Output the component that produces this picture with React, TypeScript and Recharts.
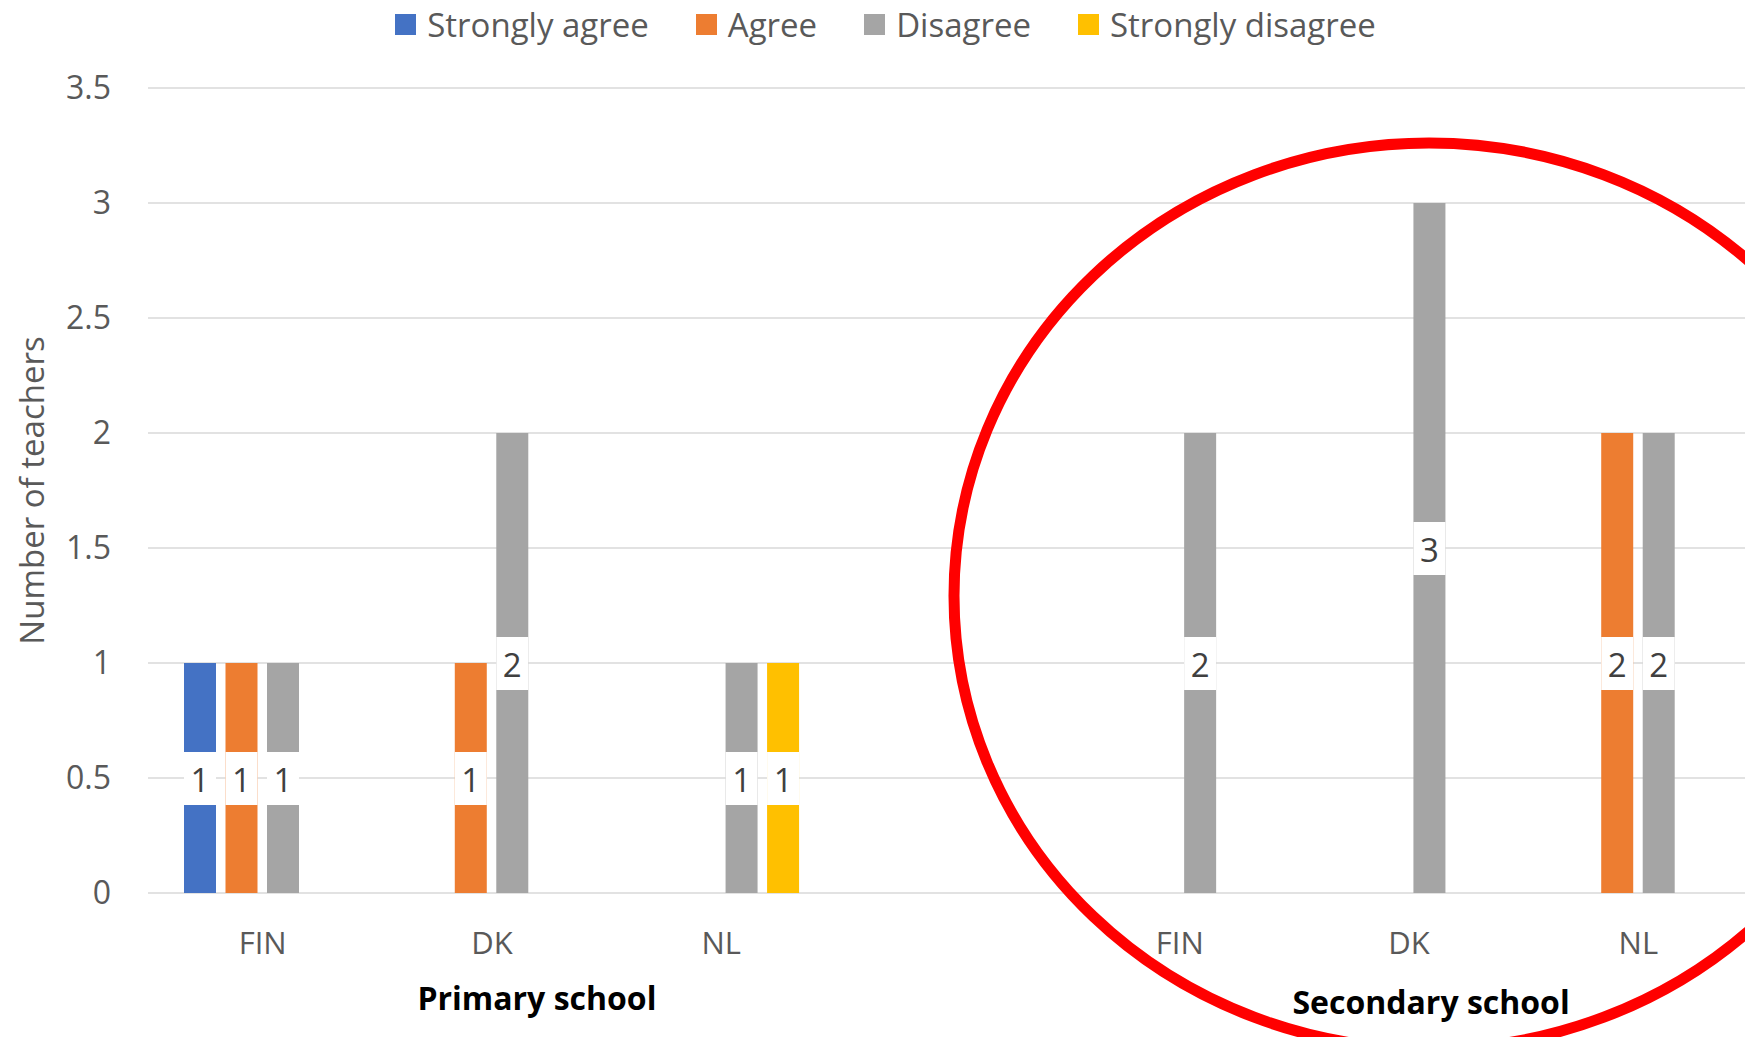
import React from "react";
import {Bar, BarChart, CartesianGrid, LabelList, Legend, XAxis, YAxis} from "recharts";

const countries = ["FIN", "DK", "NL", "", "FIN", "DK", "NL"];
const schoolLevels = ["Primary school", "Primary school", "Primary school", "", "Secondary school", "Secondary school", "Secondary school"];

const stronglyAgree = [1, null, null, null, null, null, null];
const agree = [1, 1, null, null, null, null, 2];
const disagree = [1, 2, 1, null, 2, 3, 2];
const stronglyDisagree = [null, null, 1, null, null, null, null];

const yTicks = [0, 0.5, 1, 1.5, 2, 2.5, 3, 3.5];

const series = [
  {key: "stronglyAgree", name: "Strongly agree", color: "#4472C4"},
  {key: "agree", name: "Agree", color: "#ED7D31"},
  {key: "disagree", name: "Disagree", color: "#A5A5A5"},
  {key: "stronglyDisagree", name: "Strongly disagree", color: "#FFC000"},
];

const data = countries.map((country, i) => ({
  country,
  level: schoolLevels[i],
  stronglyAgree: stronglyAgree[i],
  agree: agree[i],
  disagree: disagree[i],
  stronglyDisagree: stronglyDisagree[i],
}));

const FONT = "'Open Sans', 'Noto Sans', sans-serif";
const TEXT = "#595959";

// nudge of the group caption relative to its middle category
const groupNudge: Record<string, number> = {"Primary school": 45, "Secondary school": 22};
const groupDrop: Record<string, number> = {"Primary school": 104, "Secondary school": 108};

function CategoryTick(props: any) {
  const {x, y, index} = props;
  const country = countries[index];
  const level = schoolLevels[index];
  const isMiddle = level !== "" && schoolLevels[index - 1] === level && schoolLevels[index + 1] === level;
  return (
    <g>
      <text x={x} y={y + 49} textAnchor="middle" dominantBaseline="central" fill={TEXT}
            style={{fontFamily: FONT, fontSize: 31}}>
        {country}
      </text>
      {isMiddle && (
        <text x={x + groupNudge[level]} y={y + groupDrop[level]} textAnchor="middle" dominantBaseline="central" fill="#000"
              style={{fontFamily: FONT, fontSize: 32, fontWeight: 700}}>
          {level}
        </text>
      )}
    </g>
  );
}

function ValueLabel(props: any) {
  const {x, y, width, height, value} = props;
  if (value === null || value === undefined) return null;
  const cx = x + width / 2;
  const cy = y + height / 2;
  return (
    <g>
      <rect x={x} y={cy - 26} width={width} height={53} fill="#fff"/>
      <text x={cx} y={cy + 1} textAnchor="middle" dominantBaseline="central" fill="#404040"
            style={{fontFamily: FONT, fontSize: 33}}>
        {value}
      </text>
    </g>
  );
}

function LegendContent() {
  return (
    <div style={{
      display: "flex", justifyContent: "center", alignItems: "center", height: 48,
      fontFamily: FONT, fontSize: 33, color: TEXT, paddingLeft: 18,
    }}>
      {series.map((s, i) => (
        <div key={s.key} style={{display: "flex", alignItems: "center", marginLeft: i === 0 ? 0 : 47}}>
          <span style={{display: "inline-block", width: 21, height: 21, background: s.color, marginRight: 11}}/>
          <span>{s.name}</span>
        </div>
      ))}
    </div>
  );
}

function AxisTitle(props: any) {
  const {viewBox} = props;
  const cy = viewBox.y + viewBox.height / 2;
  return (
    <text x={31} y={cy} transform={`rotate(-90, 31, ${cy})`} textAnchor="middle" dominantBaseline="central"
          fill={TEXT} style={{fontFamily: FONT, fontSize: 33}}>
      Number of teachers
    </text>
  );
}

export default function App() {
  return (
    <div style={{position: "absolute", left: 0, top: 0, width: 1745, height: 1037, overflow: "hidden", background: "#fff"}}>
      <BarChart
        width={1760}
        height={1037}
        data={data}
        barSize={32}
        barGap={9.5}
        margin={{top: 38, right: 7, left: 0, bottom: 0}}
      >
        <CartesianGrid vertical={false} stroke="#D9D9D9" strokeWidth={1.3}/>
        <XAxis
          dataKey="country"
          interval={0}
          axisLine={false}
          tickLine={false}
          tickSize={0}
          tickMargin={0}
          height={144}
          tick={<CategoryTick/>}
        />
        <YAxis
          width={148}
          domain={[0, 3.5]}
          ticks={yTicks}
          axisLine={false}
          tickLine={false}
          tickSize={6}
          tickMargin={31}
          tick={{fill: TEXT, fontSize: 32, fontFamily: FONT}}
          label={{content: <AxisTitle/>}}
        />
        <Legend verticalAlign="top" height={50} wrapperStyle={{top: 0}} content={<LegendContent/>}/>
        {series.map((s) => (
          <Bar key={s.key} dataKey={s.key} name={s.name} fill={s.color} isAnimationActive={false}>
            <LabelList dataKey={s.key} content={<ValueLabel/>}/>
          </Bar>
        ))}
      </BarChart>
      <svg width={1745} height={1037} style={{position: "absolute", left: 0, top: 0, pointerEvents: "none"}}>
        <ellipse cx={1429} cy={596} rx={475} ry={453} fill="none" stroke="#FF0000" strokeWidth={11}/>
      </svg>
    </div>
  );
}
